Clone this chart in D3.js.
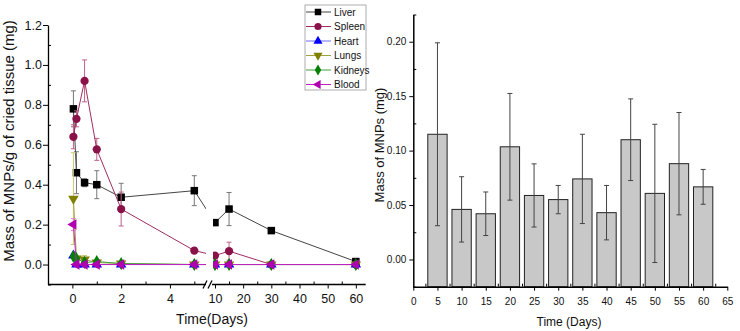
<!DOCTYPE html>
<html><head><meta charset="utf-8">
<script src="https://cdn.jsdelivr.net/npm/d3@7"></script>
<style>
body{margin:0;background:#fff;}
svg{display:block;font-family:Arial,"Liberation Sans",sans-serif;}
</style></head>
<body><svg id="c" width="740" height="331"></svg>
<script>
// ---------- Left chart data ----------
const times = [0.042, 0.167, 0.5, 1, 2, 5, 10, 15, 30, 60];
const seriesNames = ["Liver", "Spleen", "Heart", "Lungs", "Kidneys", "Blood"];
const liver      = [0.78, 0.46, 0.41, 0.40, 0.337, 0.37, 0.21, 0.278, 0.17, 0.015];
const liverErr   = [0.09, 0.105, 0.02, 0.07, 0.07, 0.075, 0, 0.083, 0, 0];
const spleen     = [0.64, 0.73, 0.92, 0.577, 0.278, 0.07, 0.045, 0.067, 0, 0];
const spleenErr  = [0.06, 0.04, 0.105, 0.055, 0.085, 0.015, 0, 0.045, 0, 0];
const heart      = [0.045, 0, 0, 0, 0, 0, 0, 0, 0, 0];
const heartErr   = [0.01, 0, 0, 0, 0, 0, 0, 0, 0, 0];
const lungs      = [0.33, 0.03, 0.025, 0.01, 0.005, 0, 0, 0, 0, 0];
const lungsErr   = [0.23, 0.01, 0.02, 0.01, 0, 0, 0, 0, 0, 0];
const kidneys    = [0.04, 0.03, 0.01, 0.015, 0.005, 0, 0, 0, 0, 0];
const kidneysErr = [0.01, 0.005, 0.005, 0.005, 0, 0, 0, 0, 0, 0];
const blood      = [0.2, 0, 0, 0, 0, 0, 0, 0, 0, 0];
const bloodErr   = [0.03, 0, 0, 0, 0, 0, 0, 0, 0, 0];
const leftYTicks = [0, 0.2, 0.4, 0.6, 0.8, 1.0, 1.2];
const leftYMinor = [-0.1, 0.1, 0.3, 0.5, 0.7, 0.9, 1.1];
const leftXTicks = [0, 2, 4, 10, 20, 30, 40, 50, 60];
const leftXMinor = [1, 3, 5, 15, 25, 35, 45, 55];

// ---------- Right chart data ----------
const days    = [5, 10, 15, 20, 25, 30, 35, 40, 45, 50, 55, 60];
const mass    = [0.115, 0.046, 0.042, 0.1035, 0.0588, 0.055, 0.074, 0.043, 0.110, 0.0607, 0.088, 0.0667];
const massErr = [0.084, 0.030, 0.020, 0.049, 0.029, 0.013, 0.041, 0.025, 0.0375, 0.0635, 0.047, 0.016];
const rightYTicks = [0, 0.05, 0.10, 0.15, 0.20];
const rightYMinor = [-0.025, 0.025, 0.075, 0.125, 0.175, 0.225];
const rightXTicks = d3.range(0, 66, 5);
const rightXMinor = d3.range(2.5, 65, 5);

const svg = d3.select("#c");

// ===== Left chart =====
const L = svg.append("g");
const xL = d3.scaleLinear().domain([-1, 5.5, 9.3, 63.5]).range([48, 206.5, 213, 365.7]);
const yL = d3.scaleLinear().domain([-0.1, 1.2]).range([284.5, 25]);

const colors = {Liver:"#000000", Spleen:"#8a1248", Heart:"#0000ff", Lungs:"#808000", Kidneys:"#008000", Blood:"#b000b0"};
const lineColors = {Liver:"#444444", Spleen:"#a02c60", Heart:"#6b6bff", Lungs:"#a0a040", Kidneys:"#40a040", Blood:"#c020c0"};
const errColors = {Liver:"#777777", Spleen:"#c0608a", Heart:"#8080ff", Lungs:"#c8c870", Kidneys:"#70c070", Blood:"#e080d0"};
const vals = {Liver:liver, Spleen:spleen, Heart:heart, Lungs:lungs, Kidneys:kidneys, Blood:blood};
const errs = {Liver:liverErr, Spleen:spleenErr, Heart:heartErr, Lungs:lungsErr, Kidneys:kidneysErr, Blood:bloodErr};

// clip out the axis break region
const defs = svg.append("defs");
const cp = defs.append("clipPath").attr("id","brk");
cp.append("rect").attr("x",40).attr("y",0).attr("width",166).attr("height",300);
cp.append("rect").attr("x",213).attr("y",0).attr("width",170).attr("height",300);

function marker(g, name, size){
  const c = colors[name];
  if(name==="Liver") g.append("rect").attr("x",-size*0.5).attr("y",-size*0.5).attr("width",size).attr("height",size).attr("fill",c);
  else if(name==="Spleen") g.append("circle").attr("r",size*0.55).attr("fill",c);
  else {
    const sym = d3.symbol().type(name==="Kidneys"? d3.symbolDiamond : d3.symbolTriangle).size(size*size*0.85);
    let rot = 0;
    if(name==="Lungs") rot = 180;
    if(name==="Blood") rot = -90;
    g.append("path").attr("d", sym()).attr("fill", c).attr("transform", `rotate(${rot})`);
  }
}

const plot = L.append("g").attr("clip-path","url(#brk)");
seriesNames.forEach(name=>{
  const v = vals[name], e = errs[name];
  const pts = times.map((t,i)=>({t, v:v[i], e:e[i]}));
  const gS = plot.append("g");
  pts.filter(p=>p.e>0).forEach(p=>{
    const x = xL(p.t);
    gS.append("line").attr("x1",x).attr("x2",x).attr("y1",yL(p.v+p.e)).attr("y2",yL(p.v-p.e))
      .attr("stroke",errColors[name]).attr("stroke-width",1);
    [p.v+p.e, p.v-p.e].forEach(yy=>{
      gS.append("line").attr("x1",x-2.5).attr("x2",x+2.5).attr("y1",yL(yy)).attr("y2",yL(yy))
        .attr("stroke",errColors[name]).attr("stroke-width",1);
    });
  });
  gS.append("path").datum(pts)
    .attr("d", d3.line().x(p=>xL(p.t)).y(p=>yL(p.v)))
    .attr("fill","none").attr("stroke",lineColors[name]).attr("stroke-width",1);
  pts.forEach(p=>{
    const m = gS.append("g").attr("transform",`translate(${xL(p.t)},${yL(p.v)})`);
    marker(m, name, 7.5);
  });
});

// left axes
const yAxL = L.append("g").attr("transform","translate(48,0)");
yAxL.call(d3.axisLeft(yL).tickValues(leftYTicks).tickFormat(d3.format(".1f")).tickSizeInner(5).tickSizeOuter(0));
L.append("g").attr("transform","translate(48,0)")
  .call(d3.axisLeft(yL).tickValues(leftYMinor).tickFormat("").tickSizeInner(-3).tickSizeOuter(0))
  .select(".domain").remove();
yAxL.selectAll("text").attr("font-size",12.5).attr("fill","#111").attr("x",-6);

const xAxL = L.append("g").attr("transform",`translate(0,${yL(-0.1)})`);
xAxL.call(d3.axisBottom(xL).tickValues(leftXTicks).tickFormat(d3.format("d")).tickSizeInner(4).tickSizeOuter(0));
xAxL.select(".domain").remove();
xAxL.selectAll("text").attr("font-size",12.5).attr("fill","#111").attr("dy","0.95em");
L.append("g").attr("transform",`translate(0,${yL(-0.1)})`)
  .call(d3.axisBottom(xL).tickValues(leftXMinor).tickFormat("").tickSizeInner(-3).tickSizeOuter(0))
  .select(".domain").remove();
const yb = yL(-0.1);
L.append("line").attr("x1",48).attr("x2",206).attr("y1",yb).attr("y2",yb).attr("stroke","#000").attr("stroke-width",1.3);
L.append("line").attr("x1",212).attr("x2",xL(63.5)).attr("y1",yb).attr("y2",yb).attr("stroke","#000").attr("stroke-width",1.3);
[205, 210].forEach(bx=>{
  L.append("line").attr("x1",bx-2).attr("x2",bx+2).attr("y1",yb+4).attr("y2",yb-4).attr("stroke","#000").attr("stroke-width",1.2);
});
L.selectAll(".domain").attr("stroke-width",1.3);

L.append("text").attr("x",212).attr("y",324).attr("text-anchor","middle").attr("font-size",14).attr("fill","#111").text("Time(Days)");
L.append("text").attr("transform","translate(14,141) rotate(-90)").attr("text-anchor","middle").attr("font-size",15).attr("fill","#111")
  .text("Mass of MNPs/g of cried tissue (mg)");

// legend
const lg = L.append("g").attr("transform","translate(305,5)");
lg.append("rect").attr("x",0).attr("y",0).attr("width",61).attr("height",85).attr("fill","#fff").attr("stroke","#999").attr("stroke-width",0.8);
seriesNames.forEach((name,i)=>{
  const yy = 7 + i*14.5;
  lg.append("line").attr("x1",1).attr("x2",26).attr("y1",yy).attr("y2",yy).attr("stroke",lineColors[name]).attr("stroke-width",1);
  const m = lg.append("g").attr("transform",`translate(13,${yy})`);
  marker(m, name, 6.5);
  lg.append("text").attr("x",29).attr("y",yy+3.5).attr("font-size",10).attr("fill","#111").text(name);
});

// ===== Right chart =====
const R = svg.append("g");
const xR = d3.scaleLinear().domain([0, 65]).range([413.3, 727.3]);
const yR = d3.scaleLinear().domain([-0.025, 0.225]).range([286.7, 14.5]);

days.forEach((d,i)=>{
  R.append("rect").attr("x",xR(d-2)).attr("width",xR(d+2)-xR(d-2)).attr("y",yR(mass[i])).attr("height",yR(-0.025)-yR(mass[i]))
    .attr("fill","#c8c8c8").attr("stroke","#222").attr("stroke-width",1);
});
days.forEach((d,i)=>{
  const x = xR(d), t = yR(mass[i]+massErr[i]), b = yR(mass[i]-massErr[i]);
  R.append("line").attr("x1",x).attr("x2",x).attr("y1",t).attr("y2",b).attr("stroke","#444").attr("stroke-width",1);
  [t,b].forEach(yy=>R.append("line").attr("x1",x-2.5).attr("x2",x+2.5).attr("y1",yy).attr("y2",yy).attr("stroke","#444").attr("stroke-width",1));
});

const yAxR = R.append("g").attr("transform",`translate(${xR(0)},0)`);
yAxR.call(d3.axisLeft(yR).tickValues(rightYTicks).tickFormat(d3.format(".2f")).tickSizeInner(4).tickSizeOuter(0));
yAxR.selectAll("text").attr("font-size",10).attr("fill","#111").attr("x",-7);
R.append("g").attr("transform",`translate(${xR(0)},0)`)
  .call(d3.axisLeft(yR).tickValues(rightYMinor).tickFormat("").tickSizeInner(-3).tickSizeOuter(0))
  .select(".domain").remove();
const xAxR = R.append("g").attr("transform",`translate(0,${yR(-0.025)})`);
xAxR.call(d3.axisBottom(xR).tickValues(rightXTicks).tickFormat(d3.format("d")).tickSizeInner(4).tickSizeOuter(0));
xAxR.selectAll("text").attr("font-size",10).attr("fill","#111").attr("dy","1.1em");
R.append("g").attr("transform",`translate(0,${yR(-0.025)})`)
  .call(d3.axisBottom(xR).tickValues(rightXMinor).tickFormat("").tickSizeInner(-3).tickSizeOuter(0))
  .select(".domain").remove();
R.selectAll(".domain").attr("stroke-width",1.5);

R.append("text").attr("x",569).attr("y",326).attr("text-anchor","middle").attr("font-size",12).attr("fill","#111").text("Time (Days)");
R.append("text").attr("transform","translate(384,145) rotate(-90)").attr("text-anchor","middle").attr("font-size",13).attr("fill","#111")
  .text("Mass of MNPs (mg)");
</script></body></html>
